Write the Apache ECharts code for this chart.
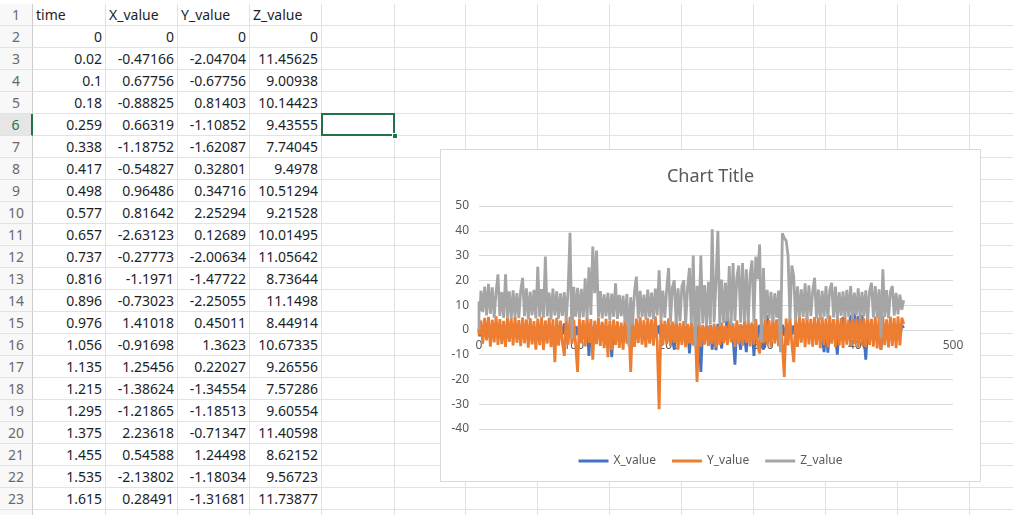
<!DOCTYPE html>
<html>
<head>
<meta charset="utf-8">
<title>Chart Title</title>
<script src="https://cdn.jsdelivr.net/npm/echarts@6/dist/echarts.min.js"></script>
<style>
  html, body {
    margin: 0;
    padding: 0;
    width: 1013px;
    height: 515px;
    overflow: hidden;
    background: #fff;
    font-family: "Noto Sans", "Open Sans", sans-serif;
  }
  #sheet {
    position: absolute;
    left: 0;
    top: 0;
    width: 1013px;
    height: 515px;
    overflow: hidden;
  }
  .cell {
    position: absolute;
    box-sizing: border-box;
    border-right: 1px solid #e2e2e2;
    border-bottom: 1px solid #e2e2e2;
    font-size: 14px;
    line-height: 21px;
    color: #1e1e1e;
    padding: 0 3px;
    white-space: nowrap;
  }
  .num {
    text-align: right;
  }
  .rowhead {
    background: #f8f8f8;
    color: #6a6a6a;
    text-align: center;
    border-right: 1px solid #cdcdcd;
    padding: 0;
  }
  .rowhead.active {
    color: #217346;
    background: #e6e6e6;
    border-right: 2px solid #217346;
  }
  #selected {
    position: absolute;
    box-sizing: border-box;
    border: 2px solid #217346;
  }
  #handle {
    position: absolute;
    width: 6px;
    height: 6px;
    box-sizing: border-box;
    background: #217346;
    border: 1px solid #fff;
  }
  #chart {
    position: absolute;
    left: 441px;
    top: 150px;
    width: 539px;
    height: 331px;
    background: #fff;
    box-shadow: 0 0 0 1px #d9d9d9;
  }
</style>
</head>
<body>
<div id="sheet"></div>
<div id="chart"></div>
<script>
// first rows of the sheet (also the start of the chart)
const TIME_HEAD = [0, 0.02, 0.1, 0.18, 0.259, 0.338, 0.417, 0.498, 0.577, 0.657, 0.737,
  0.816, 0.896, 0.976, 1.056, 1.135, 1.215, 1.295, 1.375, 1.455, 1.535, 1.615];
const X_HEAD = [0, -0.47166, 0.67756, -0.88825, 0.66319, -1.18752, -0.54827, 0.96486, 0.81642, -2.63123, -0.27773,
  -1.1971, -0.73023, 1.41018, -0.91698, 1.25456, -1.38624, -1.21865, 2.23618, 0.54588, -2.13802, 0.28491];
const Y_HEAD = [0, -2.04704, -0.67756, 0.81403, -1.10852, -1.62087, 0.32801, 0.34716, 2.25294, 0.12689, -2.00634,
  -1.47722, -2.25055, 0.45011, 1.3623, 0.22027, -1.34554, -1.18513, -0.71347, 1.24498, -1.18034, -1.31681];
const Z_HEAD = [0, 11.45625, 9.00938, 10.14423, 9.43555, 7.74045, 9.4978, 10.51294, 9.21528, 10.01495, 11.05642,
  8.73644, 11.1498, 8.44914, 10.67335, 9.26556, 7.57286, 9.60554, 11.40598, 8.62152, 9.56723, 11.73877];

const HEADERS = ["time", "X_value", "Y_value", "Z_value"];

// rest of the recording, every 2 s
const TIME_REST = [
  2, 4, 6, 8, 10, 12, 14, 16, 18, 20, 22, 24, 26, 28, 30, 32, 34, 36, 38, 40,
  42, 44, 46, 48, 50, 52, 54, 56, 58, 60, 62, 64, 66, 68, 70, 72, 74, 76, 78, 80,
  82, 84, 86, 88, 90, 92, 94, 96, 98, 100, 102, 104, 106, 108, 110, 112, 114, 116, 118, 120,
  122, 124, 126, 128, 130, 132, 134, 136, 138, 140, 142, 144, 146, 148, 150, 152, 154, 156, 158, 160,
  162, 164, 166, 168, 170, 172, 174, 176, 178, 180, 182, 184, 186, 188, 190, 192, 194, 196, 198, 200,
  202, 204, 206, 208, 210, 212, 214, 216, 218, 220, 222, 224, 226, 228, 230, 232, 234, 236, 238, 240,
  242, 244, 246, 248, 250, 252, 254, 256, 258, 260, 262, 264, 266, 268, 270, 272, 274, 276, 278, 280,
  282, 284, 286, 288, 290, 292, 294, 296, 298, 300, 302, 304, 306, 308, 310, 312, 314, 316, 318, 320,
  322, 324, 326, 328, 330, 332, 334, 336, 338, 340, 342, 344, 346, 348, 350, 352, 354, 356, 358, 360,
  362, 364, 366, 368, 370, 372, 374, 376, 378, 380, 382, 384, 386, 388, 390, 392, 394, 396, 398, 400,
  402, 404, 406, 408, 410, 412, 414, 416, 418, 420, 422, 424, 426, 428, 430, 432, 434, 436, 438, 440,
  442, 444, 446, 448
];

const X_REST = [
  1.6, -2.4, 2.1, -1.8, 0.9, -2.9, 1.4, -2.2, 2.5, -1.5,
  1.2, -2.7, 2.0, -1.9, 1.7, -3.1, 0.8, -2.3, 1.9, -2.6,
  2.3, -1.7, 1.1, -2.8, 1.5, -2.0, 2.2, -3.0, 1.3, -2.5,
  1.8, -2.1, 2.4, -3.3, 1.0, -1.6, 2.0, -2.9, 1.6, -3.4,
  2.2, -2.6, 1.4, -1.9, 2.6, -3.2, 1.1, -2.4, 1.9, -2.8,
  1.5, -2.2, 2.3, -3.0, 1.2, -2.5, 2.0, -10.5, 1.7, -1.8,
  2.1, -2.7, 1.3, -3.1, 2.4, -1.9, 1.6, -2.8, 2.0, -11.0,
  1.4, -2.3, 2.2, -3.5, 1.1, -2.0, 1.8, -2.6, 2.5, -3.0,
  1.7, -2.4, 1.0, -2.9, 2.3, -1.8, 1.5, -3.2, 2.0, -2.2,
  1.2, -2.8, 2.4, -1.6, 1.8, -3.0, 2.1, -2.5, 1.9, -2.0,
  1.6, -2.9, -8.0, 2.2, -2.4, 1.3, -3.1, 2.0, -1.7, 1.5,
  -9.5, 1.9, -2.6, 1.4, -3.3, 2.3, -17.0, 1.1, -2.2, 1.8,
  -2.7, 2.0, -8.0, 1.5, -8.2, 2.4, -3.0, -7.5, 1.2, -2.5,
  6.5, -2.1, 1.7, -3.4, -14.0, 2.2, -2.9, -8.0, 1.6, -2.0,
  -9.0, 1.8, -2.6, 2.3, -10.5, 1.4, -3.1, 2.0, -2.4, -8.0,
  1.9, 6.0, -2.7, 1.3, -3.2, 2.5, -2.0, 1.6, -2.8, 2.1,
  -2.3, 1.5, -3.0, 2.2, -1.9, 1.8, -2.6, 2.4, -3.3, 1.2,
  -2.5, 2.0, -1.7, 1.6, -3.1, 2.3, -2.2, 1.4, -2.9, 1.9,
  -2.4, -9.0, 1.7, -9.2, 2.1, -2.8, 1.5, -3.0, -10.0, 2.2,
  -2.6, 5.2, -3.1, 2.0, -2.3, 6.1, -2.7, 7.0, -1.9, 5.6,
  -2.8, 6.0, -2.2, -12.0, 1.8, -3.0, 2.4, -2.5, 1.6, -2.9,
  2.0, -8.0, 1.5, -2.4, 2.3, -3.1, 1.7, -2.6, 2.2, -1.8,
  1.4, -2.7, 2.0, 0.8
];

const Y_REST = [
  3.8, -5.6, 4.9, -4.2, 5.3, -6.8, 4.1, -5.0, 5.6, -6.1,
  4.4, -5.7, 3.6, -6.9, 5.1, -4.8, 4.7, -6.3, 5.4, -5.2,
  3.9, -6.6, 5.0, -5.4, 4.2, -7.2, 4.8, -5.9, 3.5, -8.0,
  4.6, -6.2, 5.2, -8.1, 3.8, -5.5, 4.9, -7.0, 4.3, -13.0,
  5.0, -6.4, 3.7, -5.1, -10.5, 4.5, -6.0, 5.3, -5.7, 4.0,
  -6.3, -17.0, 4.6, -5.4, 3.9, -6.7, 5.1, -5.2, 4.4, -12.0,
  3.7, -5.8, 4.9, -6.5, 3.2, -7.4, 4.5, -11.0, 3.8, -8.2,
  4.2, -6.1, 3.4, -7.3, 2.9, -8.0, 4.0, -5.5, 2.6, -17.0,
  3.1, -6.9, 4.6, -5.3, 5.2, -6.0, 3.9, -7.1, 4.8, -5.6,
  4.3, -6.4, 5.5, -5.0, -32.0, 4.1, -6.2, 3.6, -5.8, 4.7,
  -6.6, 3.3, -5.2, 4.0, -8.0, 2.8, -6.1, 3.5, -7.0, 2.4,
  -5.4, 3.0, -6.3, 2.2, -21.0, 3.1, -6.8, 2.0, -5.9, 2.7,
  -6.5, 1.8, -5.7, 2.5, -7.2, 1.4, -6.0, 2.9, -5.3, 1.7,
  -6.1, 3.4, -5.0, 2.6, -7.0, 3.8, -5.6, 2.3, -6.4, 3.5,
  -5.2, 4.1, -6.7, 3.0, -5.9, 4.4, -6.2, -9.5, 3.6, -5.4,
  4.8, -6.0, 3.9, -7.1, 5.2, -5.5, 4.3, -6.6, 3.7, -5.8,
  -19.0, 4.6, -6.3, 5.0, -5.7, -13.0, 4.2, -6.9, 5.4, -5.1,
  4.7, -7.0, 5.6, -5.9, 4.5, -6.8, 5.2, -6.1, 4.9, -7.4,
  5.3, -6.2, 4.6, -7.1, 5.8, -5.6, 4.4, -6.9, 5.1, -6.3,
  4.8, -7.3, 5.5, -6.0, 4.2, -6.7, 5.7, -5.8, 4.6, -7.2,
  5.2, -6.4, 4.7, -7.0, 5.9, -6.1, 4.5, -6.8, 5.3, -7.5,
  4.9, -8.0, 5.6, -6.2, 4.3, -7.1, 5.4, -6.5, 4.8, -7.4,
  5.5, -6.3, 4.9, 2.4
];

const Z_REST = [
  15.8, 7.2, 17.5, 5.8, 18.6, 6.5, 17.2, 4.9, 15.1, 22.4,
  5.6, 15.3, 4.8, 22.4, 5.1, 15.6, 4.4, 16.0, 5.3, 14.8,
  4.7, 15.9, 21.0, 5.5, 16.8, 4.2, 15.4, 5.9, 16.2, 4.6,
  25.5, 5.2, 16.5, 4.9, 29.6, 5.4, 15.1, 4.1, 16.7, 5.8,
  15.6, 4.5, 14.7, 5.7, 15.2, 3.6, 16.1, 39.2, -3.5, 17.4,
  5.3, 17.0, 4.8, 16.6, 5.1, 20.8, 4.3, 25.3, 6.0, 33.6,
  14.8, 32.0, 5.0, 15.7, 4.6, 14.3, 5.5, 15.0, 3.9, 14.6,
  5.2, 18.8, 4.4, 14.1, 5.6, 13.8, 3.2, 14.5, -6.5, 13.2,
  2.1, 15.3, 21.5, 4.7, 15.8, 5.3, 14.2, 4.0, 16.3, 5.1,
  15.0, 4.3, 16.7, 5.8, 24.0, 3.7, 15.9, 4.9, 16.4, 25.0,
  3.1, 17.2, 20.0, 2.6, 16.8, 3.4, 17.5, 20.0, 2.2, 16.9,
  25.0, 2.8, 30.0, -7.0, 17.8, 1.9, 30.0, 2.5, 18.1, 1.6,
  19.4, 2.3, 40.6, 3.0, 19.6, 40.0, 1.8, 20.3, 2.7, 19.1,
  3.4, 25.8, 2.0, 27.0, 3.6, 21.4, 26.0, 2.9, 27.0, 3.3,
  24.5, 2.6, 22.3, 28.0, 3.1, 29.6, 20.5, 34.5, -5.0, 25.0,
  3.8, 16.2, 4.5, 15.4, 3.2, 14.8, 4.9, 15.9, -9.0, 39.0,
  37.0, 36.0, 30.0, 4.1, 26.0, 21.5, 3.5, 17.6, 4.8, 16.4,
  5.2, 18.8, 4.0, 18.0, 5.5, 15.7, 21.0, 4.6, 16.3, 3.9,
  15.8, 5.3, 17.7, 4.4, 16.1, 19.0, 5.0, 17.5, 4.2, 15.2,
  5.7, 15.6, 4.8, 16.2, 5.1, 17.7, 4.3, 15.0, 5.9, 16.8,
  4.5, 15.3, 5.4, 16.0, 4.1, 15.7, 19.0, 5.0, 17.7, 4.7,
  16.4, -3.0, 24.5, 5.2, 16.1, 4.6, 15.5, 17.7, 5.8, 14.9,
  6.3, 14.2, 8.1, 12.0
];

const X_TICKS = [0, 100, 200, 300, 400, 500];
const Y_TICKS = [-40, -30, -20, -10, 0, 10, 20, 30, 40, 50];

// excel-ish colours
const COLORS = {
  x: "#4472c4",
  y: "#ed7d31",
  z: "#a5a5a5",
  text: "#595959",
  grid: "#d9d9d9",
};

// ---------- sheet ----------
// right edges of the row header and columns A..N
const COL_EDGES = [0, 33, 106, 178, 250, 322, 395, 466, 538, 610, 682, 754, 826, 898, 970, 1042];
const ROW_TOP = 4;
const ROW_H = 22;
const ROW_COUNT = 24;

const sheet = document.getElementById("sheet");

const addCell = (r, c, text, cls) => {
  const el = document.createElement("div");
  el.className = "cell" + (cls ? " " + cls : "");
  el.style.left = COL_EDGES[c] + "px";
  el.style.top = ROW_TOP + ROW_H * (r - 1) + "px";
  el.style.width = COL_EDGES[c + 1] - COL_EDGES[c] + "px";
  el.style.height = ROW_H + "px";
  if (text !== undefined) el.textContent = text;
  sheet.appendChild(el);
};

for (let r = 1; r <= ROW_COUNT; r++) {
  addCell(r, 0, String(r), r === 6 ? "rowhead active" : "rowhead");
  for (let c = 1; c < COL_EDGES.length - 1; c++) {
    let text;
    let cls = "";
    if (r === 1 && c <= 4) {
      text = HEADERS[c - 1];
    } else if (r >= 2 && r - 2 < TIME_HEAD.length && c <= 4) {
      const cols = [TIME_HEAD, X_HEAD, Y_HEAD, Z_HEAD];
      text = String(cols[c - 1][r - 2]);
      cls = "num";
    }
    addCell(r, c, text, cls);
  }
}

// selected cell E6
const sel = document.createElement("div");
sel.id = "selected";
sel.style.left = COL_EDGES[5] - 1 + "px";
sel.style.top = ROW_TOP + ROW_H * 5 - 1 + "px";
sel.style.width = COL_EDGES[6] - COL_EDGES[5] + 1 + "px";
sel.style.height = ROW_H + 1 + "px";
sheet.appendChild(sel);
const handle = document.createElement("div");
handle.id = "handle";
handle.style.left = COL_EDGES[6] - 3 + "px";
handle.style.top = ROW_TOP + ROW_H * 6 - 3 + "px";
sheet.appendChild(handle);

// ---------- chart ----------
const TIME = TIME_HEAD.concat(TIME_REST);
const X_VALUE = X_HEAD.concat(X_REST);
const Y_VALUE = Y_HEAD.concat(Y_REST);
const Z_VALUE = Z_HEAD.concat(Z_REST);

const GRID = { left: 38, right: 27, top: 56, bottom: 52 };
const PLOT_H = 331 - GRID.top - GRID.bottom;
// horizontal axis sits on y = 0 like in excel
const X_AXIS_OFFSET = -PLOT_H * (0 - Y_TICKS[0]) / (Y_TICKS[Y_TICKS.length - 1] - Y_TICKS[0]);

const toPairs = vals => TIME.map((t, i) => [t, vals[i]]);

const makeSeries = (name, vals, color) => ({
  name,
  type: "line",
  data: toPairs(vals),
  symbol: "none",
  showSymbol: false,
  lineStyle: { width: 2.8, color },
  itemStyle: { color },
});

const chart = echarts.init(document.getElementById("chart"), null, { renderer: "canvas" });

chart.setOption({
  animation: false,
  textStyle: { fontFamily: "Noto Sans" },
  title: {
    text: "Chart Title",
    left: "center",
    top: 13,
    textStyle: {
      fontSize: 18,
      fontWeight: "normal",
      color: COLORS.text,
    },
  },
  legend: {
    top: 300,
    left: "center",
    icon: "rect",
    itemWidth: 30,
    itemHeight: 3,
    itemGap: 16,
    textStyle: { fontSize: 12, color: COLORS.text },
    data: ["X_value", "Y_value", "Z_value"],
  },
  grid: GRID,
  xAxis: {
    type: "value",
    position: "bottom",
    offset: X_AXIS_OFFSET,
    min: X_TICKS[0],
    max: X_TICKS[X_TICKS.length - 1],
    interval: X_TICKS[1] - X_TICKS[0],
    axisLine: { onZero: false, lineStyle: { color: COLORS.grid } },
    axisTick: { show: false },
    splitLine: { show: false },
    axisLabel: { color: COLORS.text, fontSize: 12, margin: 10 },
  },
  yAxis: {
    type: "value",
    min: Y_TICKS[0],
    max: Y_TICKS[Y_TICKS.length - 1],
    interval: Y_TICKS[1] - Y_TICKS[0],
    axisLine: { show: false },
    axisTick: { show: false },
    splitLine: { lineStyle: { color: COLORS.grid } },
    axisLabel: { color: COLORS.text, fontSize: 12, margin: 10 },
  },
  series: [
    makeSeries("X_value", X_VALUE, COLORS.x),
    makeSeries("Y_value", Y_VALUE, COLORS.y),
    makeSeries("Z_value", Z_VALUE, COLORS.z),
  ],
});
</script>
</body>
</html>
